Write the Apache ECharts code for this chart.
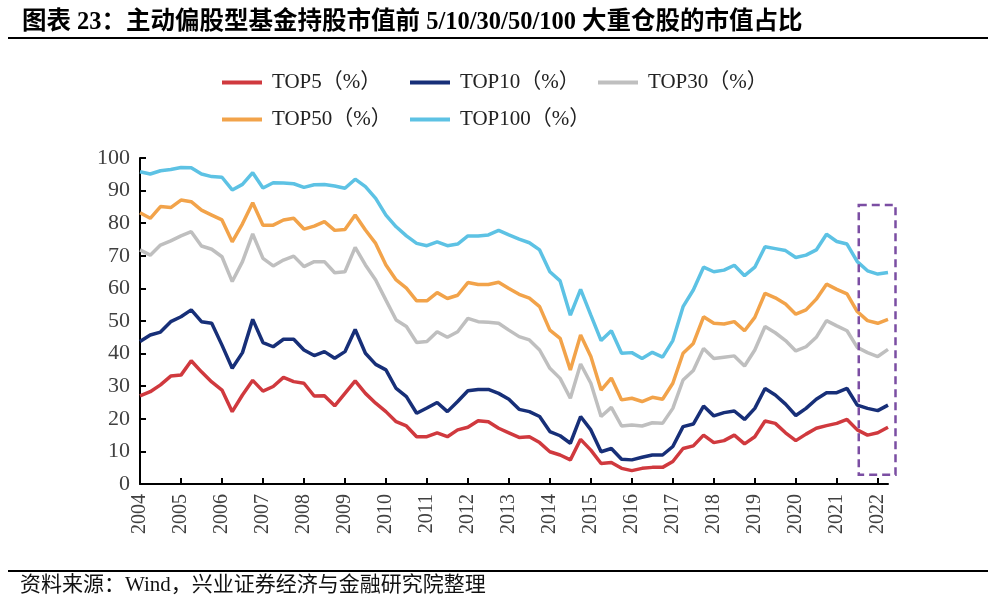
<!DOCTYPE html>
<html>
<head>
<meta charset="utf-8">
<script src="https://cdn.jsdelivr.net/npm/echarts@6/dist/echarts.min.js"></script>
<style>
html,body{margin:0;padding:0;background:#fff;}
#c{width:998px;height:614px;}
</style>
</head>
<body>
<div id="c"></div>
<script>
var titleText = '图表 23：主动偏股型基金持股市值前 5/10/30/50/100 大重仓股的市值占比';
var sourceText = '资料来源：Wind，兴业证券经济与金融研究院整理';
var years = ['2004','2005','2006','2007','2008','2009','2010','2011','2012','2013','2014','2015','2016','2017','2018','2019','2020','2021','2022'];
var lastYearQuarters = 2;
var seriesNames = ['TOP5（%）','TOP10（%）','TOP30（%）','TOP50（%）','TOP100（%）'];
var yTicks = [0,10,20,30,40,50,60,70,80,90,100];

var top5 = [27.0,28.3,30.4,33.1,33.4,37.8,34.4,31.3,28.8,22.2,27.3,31.8,28.5,29.9,32.7,31.4,30.9,27.0,27.1,24.0,27.8,31.6,27.8,24.8,22.2,19.1,17.8,14.5,14.5,15.7,14.5,16.6,17.4,19.4,19.1,17.1,15.7,14.3,14.5,12.7,9.9,8.9,7.4,13.7,10.4,6.3,6.6,4.8,4.1,4.8,5.1,5.1,6.9,10.9,11.7,15.0,12.7,13.3,15.0,12.3,14.5,19.3,18.6,15.7,13.3,15.3,17.1,17.9,18.6,19.8,16.6,15.0,15.7,17.4];
var top10 = [43.7,45.7,46.6,49.8,51.3,53.4,49.8,49.3,42.6,35.5,40.3,50.5,43.4,42.1,44.4,44.4,41.1,39.4,40.6,38.6,40.6,47.4,40.1,36.7,35.0,29.3,26.8,21.7,23.3,25.0,22.2,25.3,28.6,29.0,29.0,27.8,26.0,22.9,22.2,20.7,16.1,14.8,12.5,20.7,16.6,9.9,10.9,7.6,7.4,8.2,8.9,8.9,11.5,17.6,18.4,23.9,20.9,21.9,22.4,19.8,23.2,29.3,27.3,24.5,21.0,23.2,26.0,28.0,28.0,29.3,24.2,23.2,22.5,24.2];
var top30 = [71.8,70.2,73.3,74.6,76.1,77.4,73.0,72.0,69.7,62.1,68.2,76.7,69.2,66.9,68.7,69.9,66.7,68.2,68.2,64.8,65.1,72.6,67.2,62.6,56.4,50.3,48.3,43.4,43.7,46.7,45.0,46.7,50.8,49.8,49.6,49.3,47.2,45.2,44.2,41.1,35.5,32.4,26.3,36.8,30.9,20.7,23.5,17.8,18.1,17.8,18.8,18.6,23.2,31.9,34.8,41.6,38.5,38.9,39.3,36.2,41.1,48.3,46.4,44.0,40.8,42.1,45.0,50.1,48.5,47.0,41.9,40.3,39.1,41.3];
var top50 = [83.2,81.5,85.1,84.8,87.1,86.6,84.0,82.5,81.0,74.3,79.8,86.3,79.4,79.4,81.0,81.5,78.2,79.1,80.5,77.8,78.1,82.5,77.9,73.8,67.2,62.6,60.1,56.2,56.2,58.7,56.9,57.9,61.8,61.2,61.2,61.9,60.0,58.2,57.0,54.4,47.2,44.7,35.0,45.7,39.1,28.8,32.5,25.8,26.3,25.3,26.6,26.0,30.9,40.1,43.1,51.3,49.3,49.1,49.8,47.0,51.1,58.5,57.1,55.2,52.1,53.4,56.7,61.3,59.7,58.3,52.9,50.1,49.3,50.5];
var top100 = [95.8,95.1,96.1,96.5,97.1,97.0,95.1,94.3,94.1,90.2,91.9,95.5,90.8,92.4,92.3,92.1,91.0,91.8,91.9,91.4,90.7,93.5,91.2,87.6,82.5,78.9,76.1,73.8,73.1,74.3,73.1,73.6,76.1,76.1,76.4,77.8,76.4,75.1,74.0,71.8,65.1,62.3,51.8,59.7,51.8,44.0,47.0,40.1,40.3,38.5,40.4,38.9,44.0,54.4,59.5,66.5,65.1,65.6,67.1,63.9,66.5,72.8,72.2,71.6,69.5,70.2,71.8,76.6,74.4,73.6,68.2,65.4,64.4,64.9];

var colors = ['#D0393E','#172F78','#BFBFBF','#F2A34A','#5DC2E4'];
var serif = "'Liberation Serif','Times New Roman','Noto Sans CJK SC',serif";

var categories = [];
years.forEach(function(y, yi){
  var nq = (yi === years.length - 1) ? lastYearQuarters : 4;
  for (var q = 1; q <= nq; q++) categories.push(y + 'Q' + q);
});
var allData = [top5, top10, top30, top50, top100];

var legendPos = [[222,72],[410,72],[598,72],[222,109],[410,109]];
var legends = seriesNames.map(function(n, i){
  return {
    data: [n], left: legendPos[i][0], top: legendPos[i][1],
    icon: 'rect', itemWidth: 40, itemHeight: 4, padding: 0,
    textStyle: {fontFamily: serif, fontSize: 21, color: '#222', padding: [0,0,0,5]}
  };
});

var chart = echarts.init(document.getElementById('c'), null, {renderer: 'canvas'});
var option = {
  backgroundColor: '#fff',
  animation: false,
  color: colors,
  legend: legends,
  grid: {left: 140, right: 110, top: 158, bottom: 130, containLabel: false},
  xAxis: {
    type: 'category', data: categories, boundaryGap: false,
    axisLine: {lineStyle: {color: '#000', width: 2}},
    axisTick: {inside: true, length: 6, interval: 3, lineStyle: {color: '#000', width: 2}},
    axisLabel: {
      interval: 3, rotate: 90, margin: 10,
      fontFamily: serif, fontSize: 20, color: '#404040',
      formatter: function(v){ return v.slice(0,4); }
    },
    splitLine: {show: false}
  },
  yAxis: {
    type: 'value', min: yTicks[0], max: yTicks[yTicks.length-1], interval: 10,
    axisLine: {show: true, lineStyle: {color: '#000', width: 2}},
    axisTick: {show: true, inside: true, length: 6, lineStyle: {color: '#000', width: 2}},
    axisLabel: {fontFamily: serif, fontSize: 22, color: '#404040', margin: 10},
    splitLine: {show: false}
  },
  series: seriesNames.map(function(n, i){
    return {
      name: n, type: 'line', data: allData[i], symbol: 'none', showSymbol: false,
      lineStyle: {width: 3.5, color: colors[i]}, itemStyle: {color: colors[i]},
      z: 10 - i
    };
  })
};
chart.setOption(option);

var pL = chart.convertToPixel({xAxisIndex: 0}, categories[70]);
var pR = chart.convertToPixel({xAxisIndex: 0}, categories[categories.length-1]);
var pT = chart.convertToPixel({yAxisIndex: 0}, 85.6);
var pB = chart.convertToPixel({yAxisIndex: 0}, 2.8);

chart.setOption({
  graphic: [
    {type: 'text', left: 22, top: 10, style: {text: titleText, font: 'bold 24.5px ' + serif, fill: '#000'}},
    {type: 'line', shape: {x1: 8, y1: 38, x2: 988, y2: 38}, style: {stroke: '#000', lineWidth: 2}},
    {type: 'line', shape: {x1: 8, y1: 571, x2: 988, y2: 571}, style: {stroke: '#000', lineWidth: 2}},
    {type: 'text', left: 20, top: 575, style: {text: sourceText, font: '21px ' + serif, fill: '#111'}},
    {type: 'rect', shape: {x: pL + 1.5, y: pT, width: (pR + 7.5) - (pL + 1.5), height: pB - pT},
     style: {fill: 'none', stroke: '#7B4EA3', lineWidth: 2.5, lineDash: [8, 5]}, z: 100}
  ]
});
</script>
</body>
</html>
